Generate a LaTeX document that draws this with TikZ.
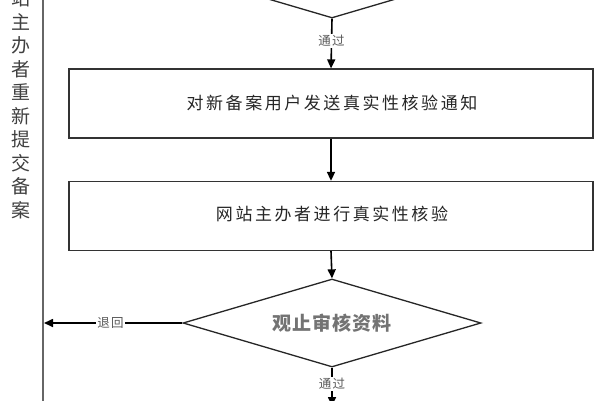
\documentclass[tikz,border=0pt]{standalone}
\usepackage{fontspec}
\newfontfamily\cjk{Noto Sans CJK SC}
\newfontfamily\cjksp[LetterSpace=15]{Noto Sans CJK SC}
\newfontfamily\cjkdia[LetterSpace=6]{Noto Sans CJK SC}
\newfontfamily\cjklb[LetterSpace=10]{Noto Sans CJK SC}
\usetikzlibrary{arrows.meta,shapes.geometric}
\tikzset{
  boxst/.style={draw=black!80,line width=1.3pt,minimum width=524pt,minimum height=69pt,inner sep=0pt},
  boxtxt/.style={font=\cjksp\fontsize{17}{17}\selectfont,text=black!85,inner sep=0pt},
  decst/.style={draw=black!85,line width=1.3pt,diamond,aspect=3.39,minimum width=298pt,minimum height=88pt,inner sep=0pt,font=\cjkdia\bfseries\fontsize{19}{19}\selectfont,text=black!55},
  arr/.style={draw=black,line width=1.6pt,-{Triangle[width=8pt,length=9pt]}},
  lbl/.style={fill=white,inner sep=1.5pt,font=\cjklb\fontsize{12.5}{12.5}\selectfont,text=black!65},
  sidest/.style={font=\cjk\fontsize{19}{19}\selectfont,text=black!75,inner sep=0pt}
}
\begin{document}
\begin{tikzpicture}[x=1pt,y=-1pt]
\useasboundingbox (0,0) rectangle (600,400);
\clip (0,0) rectangle (600,400);
\fill[white] (0,0) rectangle (600,400);
% side line and text
\coordinate (lt) at (43,-2);
\coordinate (lb) at (43,402);
\draw[black!60,line width=2pt] (lt) -- (lb);
\foreach \c [count=\i] in {站,主,办,者,重,新,提,交,备,案}
  \node[sidest] (s\i) at (21,{-1.5+23.5*(\i-1)}) {\c};
% nodes
\node[decst] (d1) at (332,-26) {};
\node[boxst] (b1) at (331,103.5) {};
\node[boxtxt] (t1) at (332,103.5) {对新备案用户发送真实性核验通知};
\node[boxst] (b2) at (331,216) {};
\node[boxtxt] (t2) at (332,214) {网站主办者进行真实性核验};
\node[decst] (d2) at (332,323) {观止审核资料};
\coordinate (ret) at (44,323);
\coordinate (endp) at (332,406);
% connectors
\draw[arr] (d1.south) -- node[lbl,pos=0.45]{通过} (b1.north);
\draw[arr] (b1.south) -- (b2.north);
\draw[arr] (b2.south) -- (d2.north);
\draw[arr] (d2.west) -- node[lbl,pos=0.52]{退回} (ret);
\draw[arr] (d2.south) -- node[lbl,pos=0.42]{通过} (endp);
\end{tikzpicture}
\end{document}
